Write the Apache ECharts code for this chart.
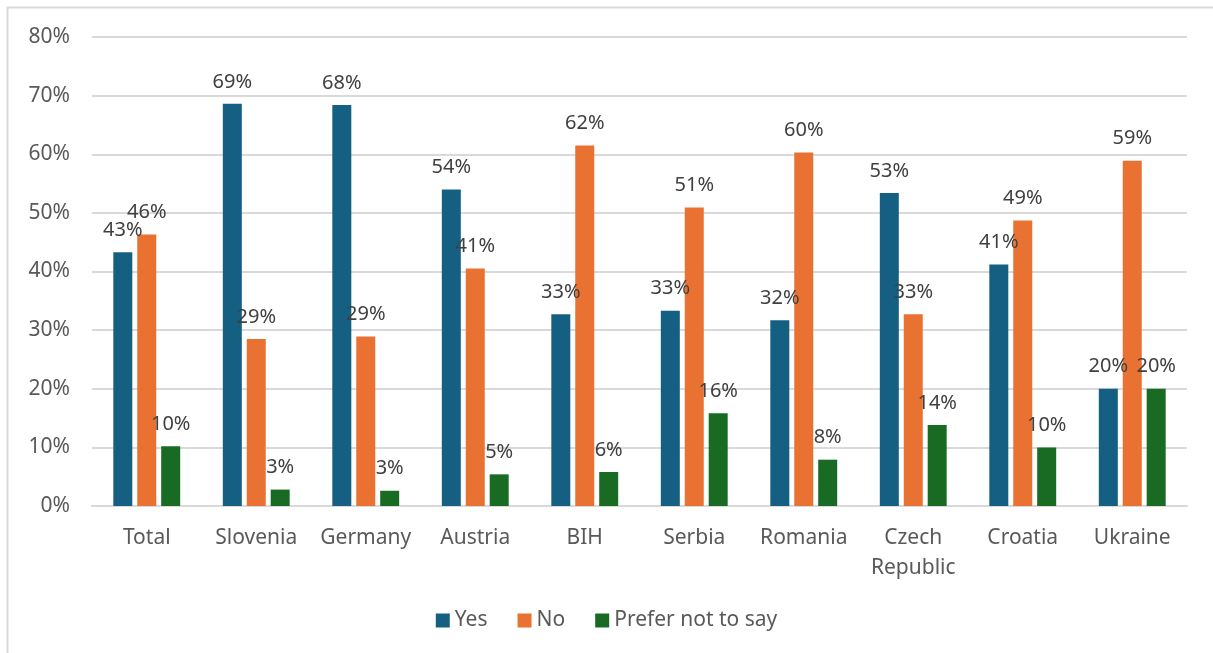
<!DOCTYPE html>
<html><head><meta charset="utf-8">
<script src="https://cdn.jsdelivr.net/npm/echarts@6/dist/echarts.min.js"></script>
<style>html,body{margin:0;padding:0;background:#fff;}#c{width:1213px;height:653px;}</style>
</head><body><div id="c"></div>
<script>
const categories = ['Total','Slovenia','Germany','Austria','BIH','Serbia','Romania','Czech\nRepublic','Croatia','Ukraine'];
const yesValues = [43.3, 68.6, 68.4, 54.0, 32.7, 33.3, 31.7, 53.4, 41.2, 20.0];
const noValues = [46.3, 28.5, 28.9, 40.5, 61.5, 50.9, 60.3, 32.7, 48.7, 58.9];
const preferValues = [10.2, 2.8, 2.6, 5.4, 5.8, 15.8, 7.9, 13.8, 10.0, 20.0];
const seriesNames = ['Yes','No','Prefer not to say'];
const yTicks = [0,10,20,30,40,50,60,70,80];

const FONT = 'Noto Sans';
const chart = echarts.init(document.getElementById('c'));
const lbl = {show:true, position:'top', distance:12, color:'#404040', fontSize:20, fontFamily:FONT,
  formatter: p => Math.round(p.value) + '%'};
function mk(name, data, color){
  return {name, type:'bar', data, barWidth:19, barGap:'26%', itemStyle:{color}, label:lbl, emphasis:{disabled:true}};
}
chart.setOption({
  animation:false,
  textStyle:{fontFamily:FONT},
  graphic:[{type:'rect', shape:{x:7.5,y:7.5,width:1230,height:680}, style:{fill:null, stroke:'#d9d9d9', lineWidth:2}, silent:true}],
  grid:{left:92, right:26, top:37, bottom:147, containLabel:false},
  legend:{bottom:17, left:'center', itemWidth:14, itemHeight:14, itemGap:30, icon:'rect',
    textStyle:{fontSize:21, color:'#595959', fontFamily:FONT}, data:seriesNames},
  xAxis:{type:'category', data:categories,
    axisLine:{lineStyle:{color:'#d9d9d9', width:2}}, axisTick:{show:false},
    axisLabel:{fontSize:21, color:'#595959', fontFamily:FONT, margin:17, lineHeight:30, interval:0}},
  yAxis:{type:'value', min:0, max:80, interval:10,
    axisLabel:{fontSize:21, color:'#595959', fontFamily:FONT, margin:22, formatter: v => yTicks.includes(v) ? v + '%' : ''},
    splitLine:{lineStyle:{color:'#d9d9d9', width:2}}, axisLine:{show:false}, axisTick:{show:false}},
  series:[mk(seriesNames[0], yesValues, '#156082'), mk(seriesNames[1], noValues, '#E97132'), mk(seriesNames[2], preferValues, '#196B24')]
});
</script></body></html>
